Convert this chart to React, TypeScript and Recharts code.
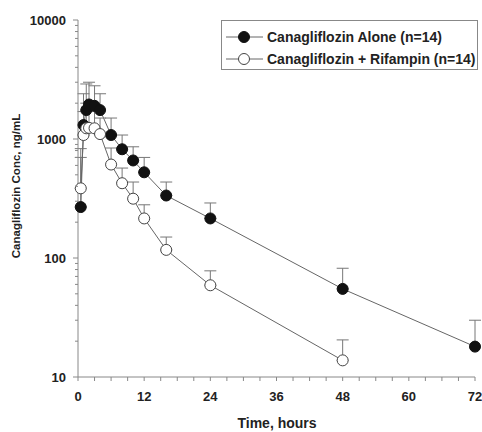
import { LineChart, Line, XAxis, YAxis, ErrorBar, Legend, Label } from 'recharts';

// sampling times, hours
const times = [0.5, 1, 1.5, 2, 3, 4, 6, 8, 10, 12, 16, 24, 48, 72];
const rifTimes = [0.5, 1, 1.5, 2, 3, 4, 6, 8, 10, 12, 16, 24, 48];

// mean and mean+SD, ng/mL
const aloneMean = [268, 1310, 1750, 1950, 1900, 1750, 1080, 820, 660, 525, 335, 215, 55, 18];
const aloneUpper = [700, 2400, 2900, 3000, 2800, 2400, 1500, 1080, 860, 700, 435, 290, 82, 30];
const rifMean = [385, 1080, 1230, 1240, 1230, 1100, 610, 425, 315, 215, 117, 59, 13.8];
const rifUpper = [830, 1700, 2000, 1900, 1700, 1500, 840, 570, 435, 280, 150, 78, 20.5];

const xTicks = [0, 3, 6, 9, 12, 15, 18, 21, 24, 27, 30, 33, 36, 39, 42, 45, 48, 51, 54, 57, 60, 63, 66, 69, 72];
const yTicks = [
  10, 20, 30, 40, 50, 60, 70, 80, 90,
  100, 200, 300, 400, 500, 600, 700, 800, 900,
  1000, 2000, 3000, 4000, 5000, 6000, 7000, 8000, 9000,
  10000,
];
const yMajor = [10, 100, 1000, 10000];

const seriesNames = ['Canagliflozin Alone (n=14)', 'Canagliflozin + Rifampin (n=14)'];

const FONT = '"Liberation Sans", Arial, sans-serif';

const aloneData = times.map((t, i) => ({ t, mean: aloneMean[i], err: [0, aloneUpper[i] - aloneMean[i]] }));
const rifData = rifTimes.map((t, i) => ({ t, mean: rifMean[i], err: [0, rifUpper[i] - rifMean[i]] }));

const XTick = (props: any) => {
  const { x, y, payload } = props;
  const major = payload.value % 12 === 0;
  return (
    <g>
      <line x1={x} x2={x} y1={y} y2={y + 4} stroke="#888" />
      {major && (
        <text x={x} y={y + 24} textAnchor="middle" fontSize={13} fontWeight="bold" fill="#222" fontFamily={FONT}>
          {payload.value}
        </text>
      )}
    </g>
  );
};

const YTick = (props: any) => {
  const { x, y, payload } = props;
  const major = yMajor.includes(payload.value);
  return (
    <g>
      <line x1={x - (major ? 5 : 3)} x2={x} y1={y} y2={y} stroke="#888" />
      {major && (
        <text x={x - 12} y={y + 5} textAnchor="end" fontSize={13} fontWeight="bold" fill="#222" fontFamily={FONT}>
          {payload.value}
        </text>
      )}
    </g>
  );
};

const renderLegend = () => (
  <div
    style={{
      width: 257,
      height: 50,
      border: '1px solid #888',
      background: '#fff',
      boxSizing: 'border-box',
    }}
  >
    <svg width={255} height={48} style={{ display: 'block' }}>
      {seriesNames.map((name, i) => {
        const cy = 16 + i * 22;
        return (
          <g key={name}>
            <line x1={4} x2={41} y1={cy} y2={cy} stroke="#666" />
            <circle
              cx={22}
              cy={cy}
              r={5.5}
              fill={i === 0 ? '#111' : '#fff'}
              stroke={i === 0 ? '#111' : '#444'}
            />
            <text x={45} y={cy + 5} fontSize={14} fontWeight="bold" fill="#222" fontFamily={FONT}>
              {name}
            </text>
          </g>
        );
      })}
    </svg>
  </div>
);

export default function App() {
  return (
    <div style={{ position: 'absolute', left: 0, top: 0, background: '#fff' }}>
      <LineChart width={482} height={432} margin={{ top: 20, right: 7, bottom: 0, left: 0 }}>
        <XAxis
          dataKey="t"
          type="number"
          domain={[0, 72]}
          ticks={xTicks}
          interval={0}
          tickSize={0}
          tickMargin={0}
          tick={<XTick />}
          height={55}
          stroke="#888"
          allowDuplicatedCategory={false}
        >
          <Label
            content={() => (
              <text x={277} y={428} textAnchor="middle" fontSize={14} fontWeight="bold" fill="#222" fontFamily={FONT}>
                Time, hours
              </text>
            )}
          />
        </XAxis>
        <YAxis
          type="number"
          scale="log"
          domain={[10, 10000]}
          ticks={yTicks}
          interval={0}
          tickSize={0}
          tickMargin={0}
          tick={<YTick />}
          width={78}
          stroke="#888"
          allowDataOverflow
        >
          <Label
            content={() => (
              <text
                x={0}
                y={0}
                transform="translate(20,186) rotate(-90)"
                textAnchor="middle"
                fontSize={11.5}
                fontWeight="bold"
                fill="#222"
                fontFamily={FONT}
              >
                Canagliflozin Conc, ng/mL
              </text>
            )}
          />
        </YAxis>
        <Legend
          layout="horizontal"
          verticalAlign="middle"
          align="center"
          content={renderLegend}
          wrapperStyle={{ position: 'absolute', top: 20, left: 221, width: 257, height: 50 }}
        />
        <Line
          data={aloneData}
          dataKey="mean"
          name={seriesNames[0]}
          type="linear"
          stroke="#666"
          strokeWidth={1}
          dot={{ r: 5.5, fill: '#111', stroke: '#111', strokeWidth: 1 }}
          activeDot={false}
          isAnimationActive={false}
        >
          <ErrorBar dataKey="err" direction="y" width={6} stroke="#777" strokeWidth={1} />
        </Line>
        <Line
          data={rifData}
          dataKey="mean"
          name={seriesNames[1]}
          type="linear"
          stroke="#666"
          strokeWidth={1}
          dot={{ r: 5.5, fill: '#fff', stroke: '#444', strokeWidth: 1 }}
          activeDot={false}
          isAnimationActive={false}
        >
          <ErrorBar dataKey="err" direction="y" width={6} stroke="#777" strokeWidth={1} />
        </Line>
      </LineChart>
    </div>
  );
}
